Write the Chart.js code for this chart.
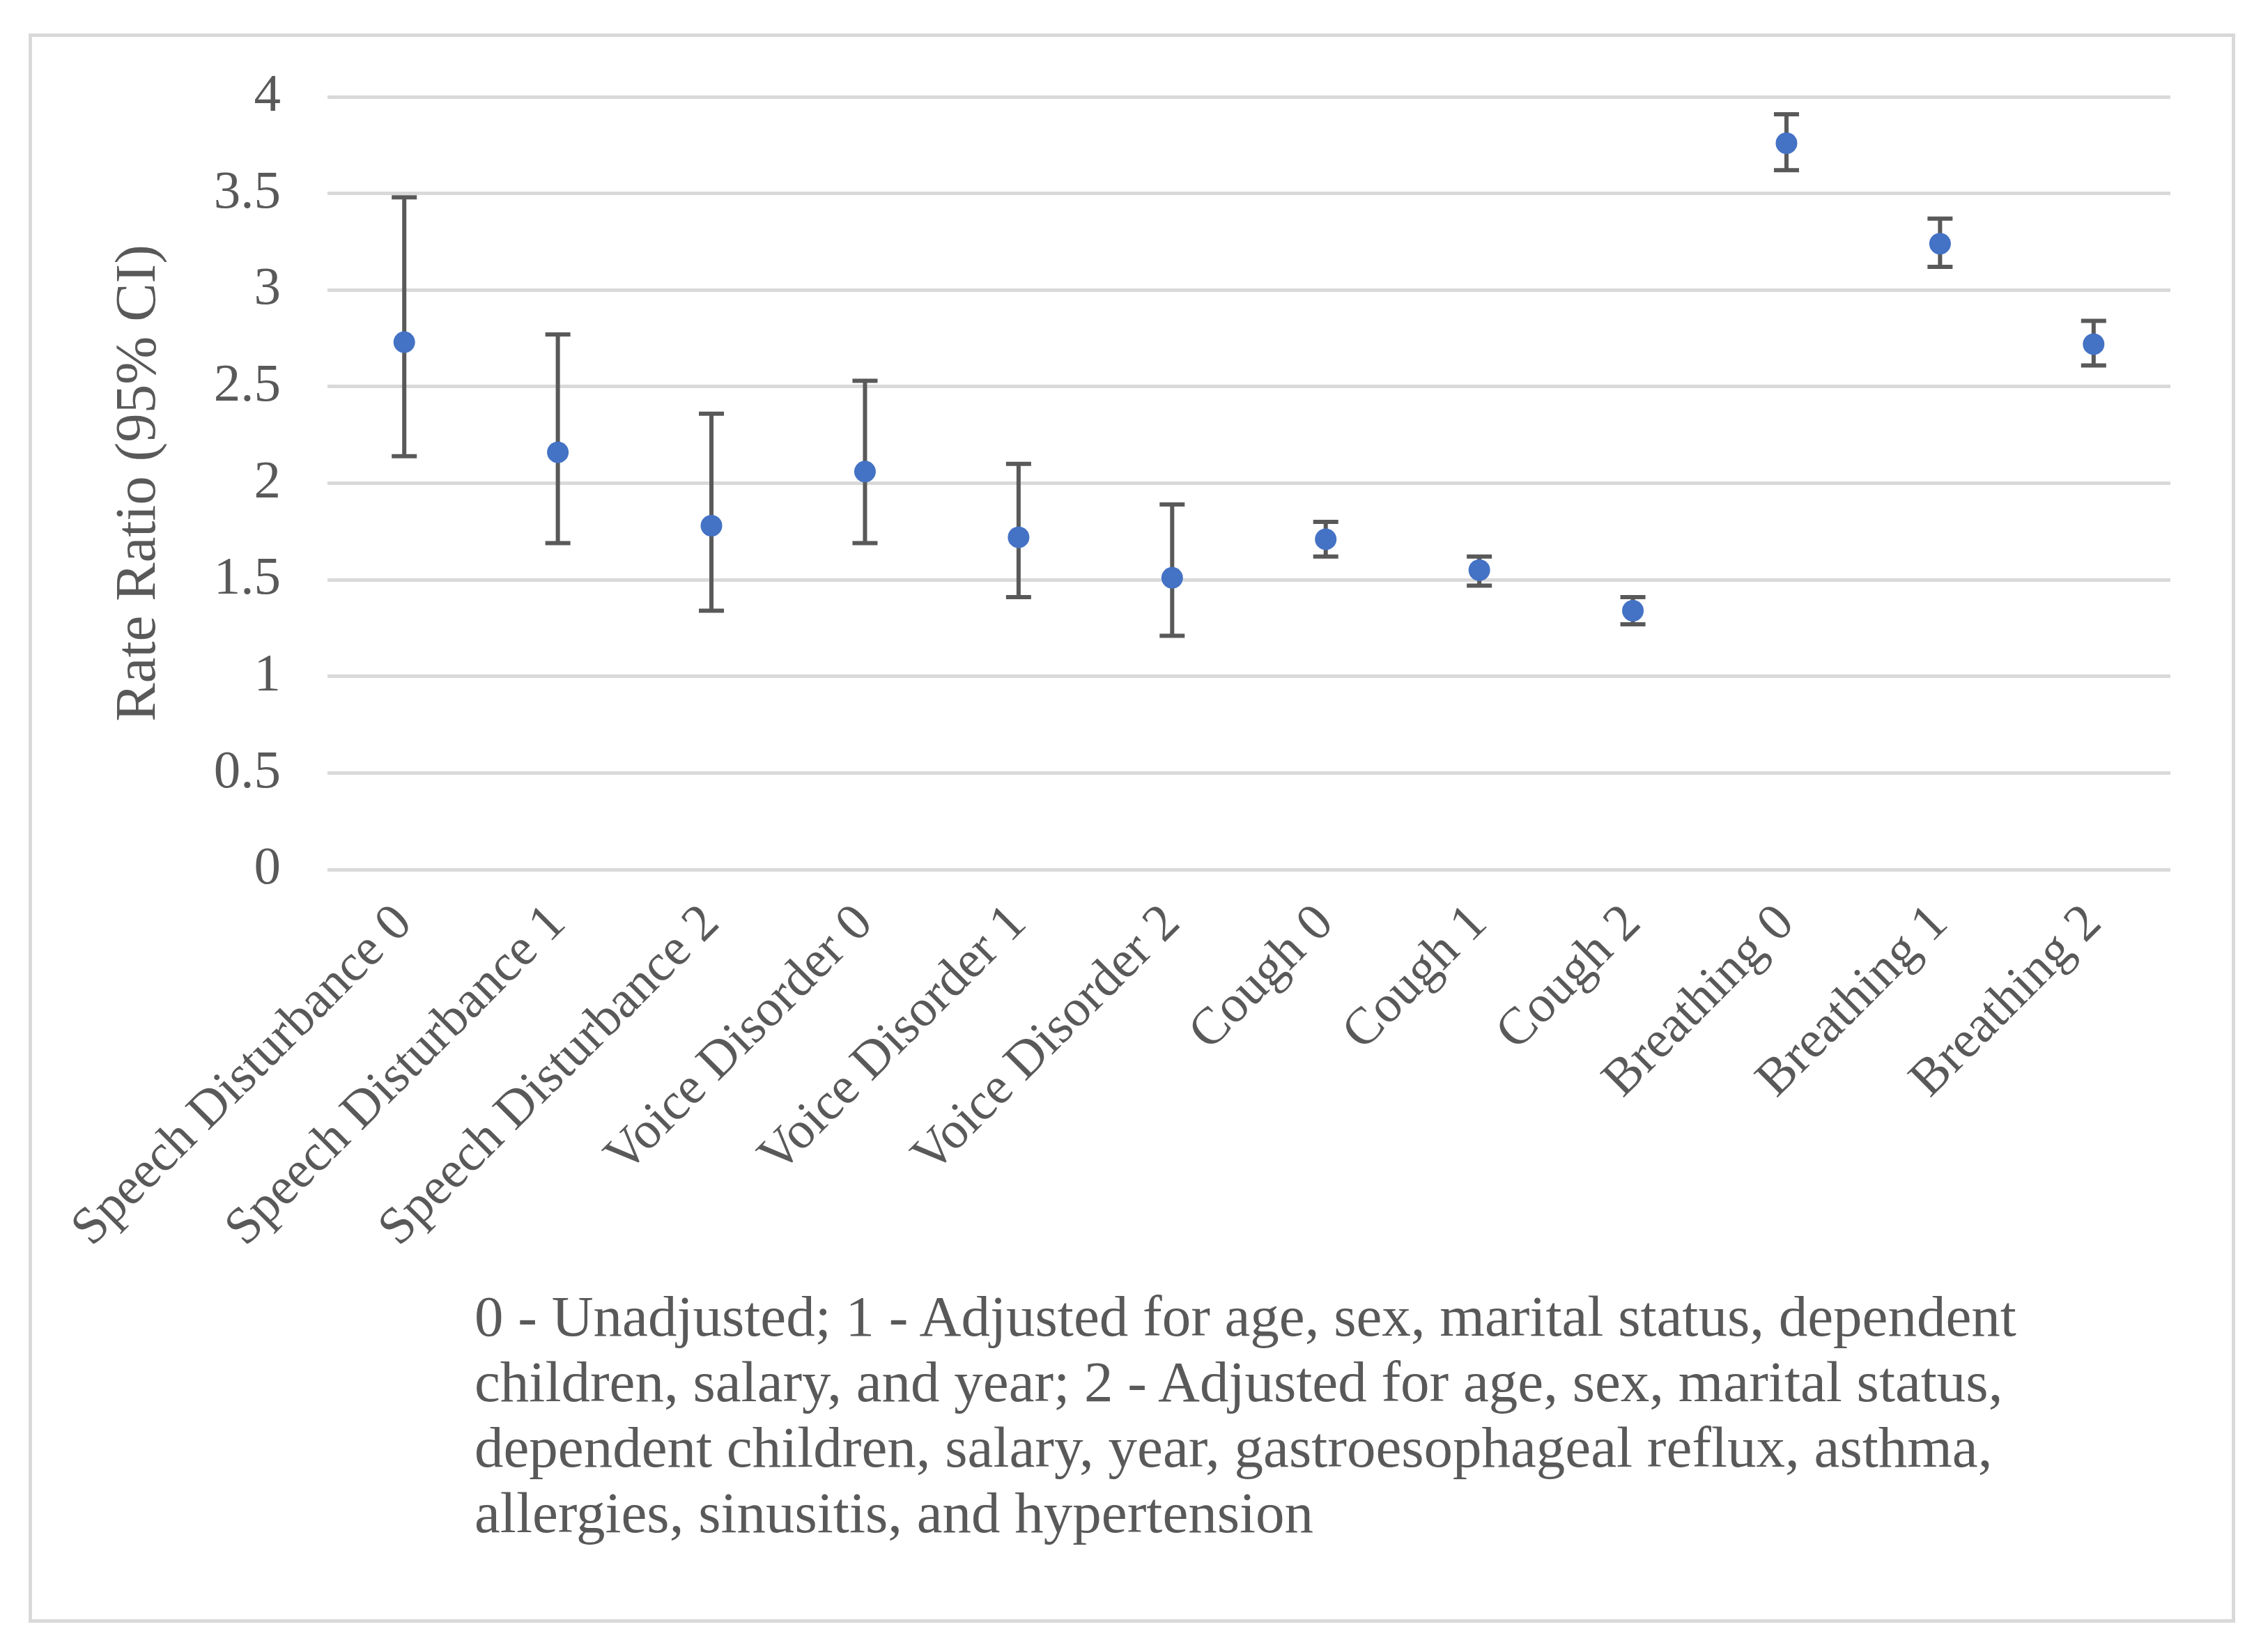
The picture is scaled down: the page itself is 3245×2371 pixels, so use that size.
<!DOCTYPE html>
<html>
<head>
<meta charset="utf-8">
<script src="https://cdn.jsdelivr.net/npm/chart.js@4.4.0/dist/chart.umd.min.js"></script>
<style>
  html, body { margin: 0; padding: 0; background: #fff; }
  #wrap { position: relative; width: 3245px; height: 2371px; }
  #frame { position: absolute; left: 41px; top: 48px; width: 3167px; height: 2281px;
           border: 5px solid #d9d9d9; box-sizing: border-box; pointer-events: none; }
  #note { position: absolute; left: 681px; top: 1842px; font-family: "Liberation Serif", "Times New Roman", serif;
          font-size: 83px; line-height: 94px; color: #595959; white-space: nowrap; }
</style>
</head>
<body>
<div id="wrap">
  <canvas id="chart" width="3245" height="2371"></canvas>
  <div id="frame"></div>
  <div id="note">0 - Unadjusted; 1 - Adjusted for age, sex, marital status, dependent<br>children, salary, and year; 2 - Adjusted for age, sex, marital status,<br>dependent children, salary, year, gastroesophageal reflux, asthma,<br>allergies, sinusitis, and hypertension</div>
</div>
<script>
const labels = [
  "Speech Disturbance 0", "Speech Disturbance 1", "Speech Disturbance 2",
  "Voice Disorder 0", "Voice Disorder 1", "Voice Disorder 2",
  "Cough 0", "Cough 1", "Cough 2",
  "Breathing 0", "Breathing 1", "Breathing 2"
];
const rateRatio = [2.73, 2.16, 1.78, 2.06, 1.72, 1.51, 1.71, 1.55, 1.34, 3.76, 3.24, 2.72];
const ciLower   = [2.14, 1.69, 1.34, 1.69, 1.41, 1.21, 1.62, 1.47, 1.27, 3.62, 3.12, 2.61];
const ciUpper   = [3.48, 2.77, 2.36, 2.53, 2.10, 1.89, 1.80, 1.62, 1.41, 3.91, 3.37, 2.84];
const yTicks = [0, 0.5, 1, 1.5, 2, 2.5, 3, 3.5, 4];

const grey = "#595959";
const serif = "'Liberation Serif', 'Times New Roman', serif";

// Error bars drawn behind the points
const errorBars = {
  id: "errorBars",
  beforeDatasetsDraw(chart) {
    const { ctx, scales: { x, y } } = chart;
    const cap = 18;
    ctx.save();
    ctx.strokeStyle = grey;
    ctx.lineWidth = 6;
    ctx.lineCap = "butt";
    labels.forEach((lab, i) => {
      const px = x.getPixelForValue(i);
      const top = y.getPixelForValue(ciUpper[i]);
      const bot = y.getPixelForValue(ciLower[i]);
      ctx.beginPath();
      ctx.moveTo(px, top);
      ctx.lineTo(px, bot);
      ctx.moveTo(px - cap, top);
      ctx.lineTo(px + cap, top);
      ctx.moveTo(px - cap, bot);
      ctx.lineTo(px + cap, bot);
      ctx.stroke();
    });
    ctx.restore();
  }
};

new Chart(document.getElementById("chart").getContext("2d"), {
  type: "line",
  data: {
    labels: labels,
    datasets: [{
      data: rateRatio,
      showLine: false,
      pointRadius: 15.5,
      pointHoverRadius: 15.5,
      pointBackgroundColor: "#4472c4",
      pointBorderWidth: 0
    }]
  },
  options: {
    responsive: false,
    animation: false,
    devicePixelRatio: 1,
    layout: { padding: { left: 130, top: 139, right: 130, bottom: 0 } },
    plugins: { legend: { display: false }, tooltip: { enabled: false } },
    scales: {
      x: {
        type: "category",
        offset: true,
        grid: { display: false },
        border: { display: false },
        ticks: {
          autoSkip: false,
          maxRotation: 45,
          minRotation: 45,
          padding: 26,
          color: grey,
          font: { family: serif, size: 75 }
        },
        afterFit(scale) { scale.height = 2371 - 1248; }
      },
      y: {
        min: 0,
        max: 4,
        afterBuildTicks(scale) { scale.ticks = yTicks.map(v => ({ value: v })); },
        grid: { color: "#d9d9d9", lineWidth: 5, drawTicks: false },
        border: { display: false },
        ticks: {
          padding: 67,
          color: grey,
          font: { family: serif, size: 77 },
          callback: v => String(v)
        },
        title: {
          display: true,
          text: "Rate Ratio (95% CI)",
          color: grey,
          font: { family: serif, size: 83 },
          padding: { top: 20, bottom: 0 }
        },
        afterFit(scale) { scale.width = 470 - 130; }
      }
    }
  },
  plugins: [errorBars]
});
</script>
</body>
</html>
